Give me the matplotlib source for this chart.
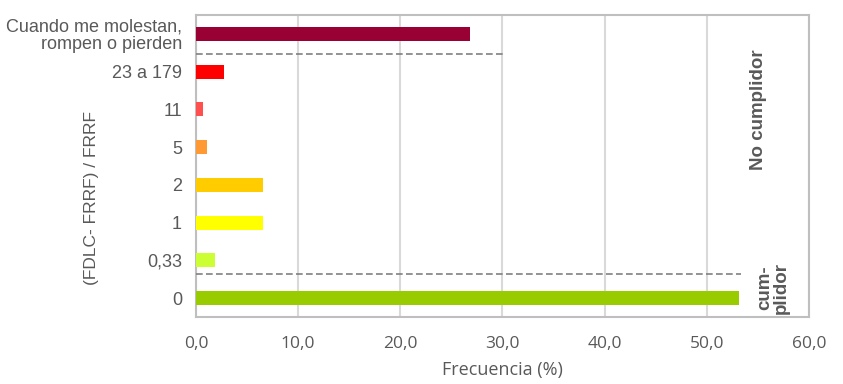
import matplotlib.pyplot as plt

# Data
categories = ["0", "0,33", "1", "2", "5", "11", "23 a 179",
              "Cuando me molestan,\nrompen o pierden"]
frecuencia = [53.2, 1.9, 6.6, 6.6, 1.1, 0.7, 2.7, 26.8]
colores = ["#99CC00", "#CCFF33", "#FFFF00", "#FFCC00", "#FF9933",
           "#FF5050", "#FF0000", "#990033"]
xticks = [0, 10, 20, 30, 40, 50, 60]

# dashed separators (y position, x end)
sep_sup = (6.47, 30.2)
sep_inf = (0.65, 53.4)

gris = "#595959"

fig = plt.figure(figsize=(8.43, 3.84), dpi=100)
ax = fig.add_axes([0.2325, 0.1745, 0.727, 0.7865])

pos = list(range(len(categories)))
ax.barh(pos, frecuencia, height=0.37, color=colores, zorder=3)

ax.plot([0, sep_sup[1]], [sep_sup[0]] * 2, ls=(0, (4, 2)), color="#808080",
        lw=1.2, zorder=4)
ax.plot([0, sep_inf[1]], [sep_inf[0]] * 2, ls=(0, (4, 2)), color="#808080",
        lw=1.2, zorder=4)

ax.set_xlim(0, 60)
ax.set_ylim(-0.5, 7.5)
ax.set_xticks(xticks)
ax.set_xticklabels([f"{v:.1f}".replace(".", ",") for v in xticks],
                   fontfamily="Open Sans", fontsize=12.5, color=gris)
ax.set_yticks(pos)
ax.set_yticklabels(categories, fontfamily="Liberation Sans", fontsize=13,
                   color=gris, linespacing=1.0)
ax.tick_params(axis="y", length=0, pad=10)
ax.tick_params(axis="x", length=0, pad=14)

ax.grid(axis="x", color="#D9D9D9", lw=1.5, zorder=0)
for s in ax.spines.values():
    s.set_color("#BFBFBF")
    s.set_linewidth(1.5)

ax.set_xlabel("Frecuencia (%)", fontfamily="Open Sans", fontsize=13,
              color=gris, labelpad=6)
fig.text(0.108, 0.484, "(FDLC- FRRF) / FRRF", rotation=90, ha="center",
         va="center", fontfamily="Liberation Sans", fontsize=12.5, color=gris)

ax.text(55.1, 4.98, "No cumplidor", rotation=90, ha="center", va="center",
        fontfamily="Liberation Sans", fontsize=13.5, fontweight="bold", color=gris)
ax.text(56.5, 0.27, "cum-\nplidor", rotation=90, ha="center", va="center",
        fontfamily="Liberation Sans", fontsize=13.5, fontweight="bold", color=gris,
        linespacing=0.95)

fig.savefig("out.png", dpi=100)
